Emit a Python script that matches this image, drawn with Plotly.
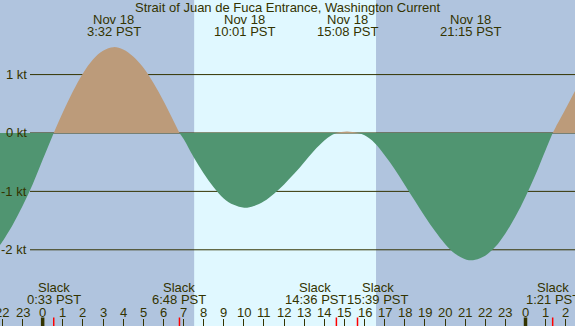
import plotly.graph_objects as go

# ---------------- data ----------------
title_text = "Strait of Juan de Fuca Entrance, Washington Current"

# hours since midnight Nov 18 (PST) and current speed in knots (+ flood, - ebb)
hours = [-2.12, -2.0, -1.5, -1.0, -0.5, 0.0, 0.55, 1.0, 1.5, 2.0, 2.5, 3.0, 3.53,
         4.0, 4.5, 5.0, 5.5, 6.0, 6.5, 6.8, 7.0, 7.5, 8.0, 8.5, 9.0, 9.5, 10.02,
         10.5, 11.0, 11.5, 12.0, 12.5, 13.0, 13.5, 14.0, 14.3, 14.6, 14.85, 15.13,
         15.4, 15.65, 16.0, 16.5, 17.0, 17.5, 18.0, 18.5, 19.0, 19.5, 20.0, 20.5,
         21.0, 21.25, 21.5, 22.0, 22.5, 23.0, 23.5, 24.0, 24.5, 25.0, 25.35, 25.5,
         26.0, 26.46]
knots = [-1.92, -1.86, -1.58, -1.25, -0.88, -0.46, 0.0, 0.35, 0.71, 1.02, 1.26, 1.41, 1.47,
         1.43, 1.31, 1.12, 0.86, 0.55, 0.21, 0.0, -0.10, -0.41, -0.69, -0.93, -1.12, -1.23, -1.28,
         -1.25, -1.17, -1.04, -0.88, -0.70, -0.50, -0.30, -0.13, -0.05, 0.0, 0.017, 0.025,
         0.017, 0.0, -0.04, -0.17, -0.38, -0.62, -0.89, -1.16, -1.43, -1.68, -1.90, -2.07,
         -2.16, -2.18, -2.17, -2.10, -1.95, -1.72, -1.43, -1.09, -0.71, -0.29, 0.0, 0.10,
         0.42, 0.72]

# max current events (top labels)
max_hours = [3.533, 10.017, 15.133, 21.25]
max_dates = ["Nov 18", "Nov 18", "Nov 18", "Nov 18"]
max_labels = ["3:32 PST", "10:01 PST", "15:08 PST", "21:15 PST"]

# slack events (bottom labels)
slack_hours = [0.55, 6.8, 14.6, 15.65, 25.35]
slack_labels = ["0:33 PST", "6:48 PST", "14:36 PST", "15:39 PST", "1:21 PST"]
slack_label_shift = [0, 0, -21, 20, 0]   # pixel nudges so crowded labels don't collide

# daylight
sunrise, sunset = 7.53, 16.57
midnights = [0, 24]

# hour axis ticks
tick_hours = list(range(-2, 27))
tick_labels = [str(h % 24) for h in tick_hours]

# speed gridlines
grid_values = [1, 0, -1, -2]
grid_labels = ["1 kt", "0 kt", "-1 kt", "-2 kt"]

# ---------------- style ----------------
W, H = 575, 326
NIGHT = "#b0c4de"
DAY = "#e0f8ff"
FLOOD = "#bc9b7a"
EBB = "#509571"
INK = "#333300"
FONT = "Liberation Sans, Arial, sans-serif"
FS = 13
XR = [-2.12, 26.46]
YR = [-3.305, 2.277]

fig = go.Figure()

# split series into lobes at slack points (value == 0)
seg_x, seg_y = [hours[0]], [knots[0]]
segments = []
for h, v in zip(hours[1:], knots[1:]):
    seg_x.append(h)
    seg_y.append(v)
    if v == 0:
        segments.append((seg_x, seg_y))
        seg_x, seg_y = [h], [v]
if len(seg_x) > 1:
    segments.append((seg_x, seg_y))

for sx, sy in segments:
    sign = max(sy, key=abs)
    col = FLOOD if sign > 0 else EBB
    fig.add_trace(go.Scatter(x=sx, y=sy, mode="lines", fill="tozeroy",
                             fillcolor=col, line=dict(width=0, color=col, shape="spline"),
                             hoverinfo="skip", showlegend=False))

shapes = []
shapes.append(dict(type="rect", xref="x", yref="paper", x0=sunrise, x1=sunset, y0=0, y1=1,
                   fillcolor=DAY, line=dict(width=0), layer="below"))
for g in grid_values:
    shapes.append(dict(type="line", xref="paper", yref="y", x0=30 / W, x1=1, y0=g, y1=g,
                       line=dict(color=INK, width=1), layer="below"))
for m in midnights:
    shapes.append(dict(type="line", xref="x", yref="paper", x0=m, x1=m,
                       y0=0, y1=8.5 / H, line=dict(color=INK, width=3.5), layer="above"))
for s in slack_hours:
    shapes.append(dict(type="line", xref="x", yref="paper", x0=s, x1=s,
                       y0=0, y1=8.5 / H, line=dict(color="#ff0000", width=1.5), layer="above"))

ann = []
def py(px):
    return 1 - px / H

def A(text, x, y, xref="x", yref="paper", xanchor="center", xshift=0):
    return dict(text=text, xref=xref, yref=yref, x=x, y=y, xanchor=xanchor,
                yanchor="middle", showarrow=False, xshift=xshift,
                font=dict(family=FONT, size=FS, color=INK))

ann.append(A(title_text, 0.5, py(7.5), xref="paper"))
for h, d, t in zip(max_hours, max_dates, max_labels):
    ann.append(A(d, h, py(19.5)))
    ann.append(A(t, h, py(31.5)))
for h, t, sh in zip(slack_hours, slack_labels, slack_label_shift):
    ann.append(A("Slack", h, py(287.5), xshift=sh))
    ann.append(A(t, h, py(299.5), xshift=sh))
for h, t in zip(tick_hours, tick_labels):
    ann.append(A(t, h, py(312)))
for g, t in zip(grid_values, grid_labels):
    ann.append(A(t, 28.5 / W, g, xref="paper", yref="y", xanchor="right"))

fig.update_layout(
    width=W, height=H, autosize=False,
    margin=dict(l=0, r=0, t=0, b=0, pad=0),
    plot_bgcolor=NIGHT, paper_bgcolor=NIGHT,
    shapes=shapes, annotations=ann, showlegend=False,
    xaxis=dict(range=XR, showgrid=False, zeroline=False, showline=False,
               ticks="inside", tickvals=tick_hours, ticklen=7, tickwidth=1, tickcolor=INK,
               showticklabels=False, fixedrange=True),
    yaxis=dict(range=YR, visible=False, showgrid=False, zeroline=False, fixedrange=True),
)

fig.write_html("out.html", config={"displayModeBar": False, "staticPlot": True},
               post_script="document.body.style.margin='0';document.body.style.overflow='hidden';")
